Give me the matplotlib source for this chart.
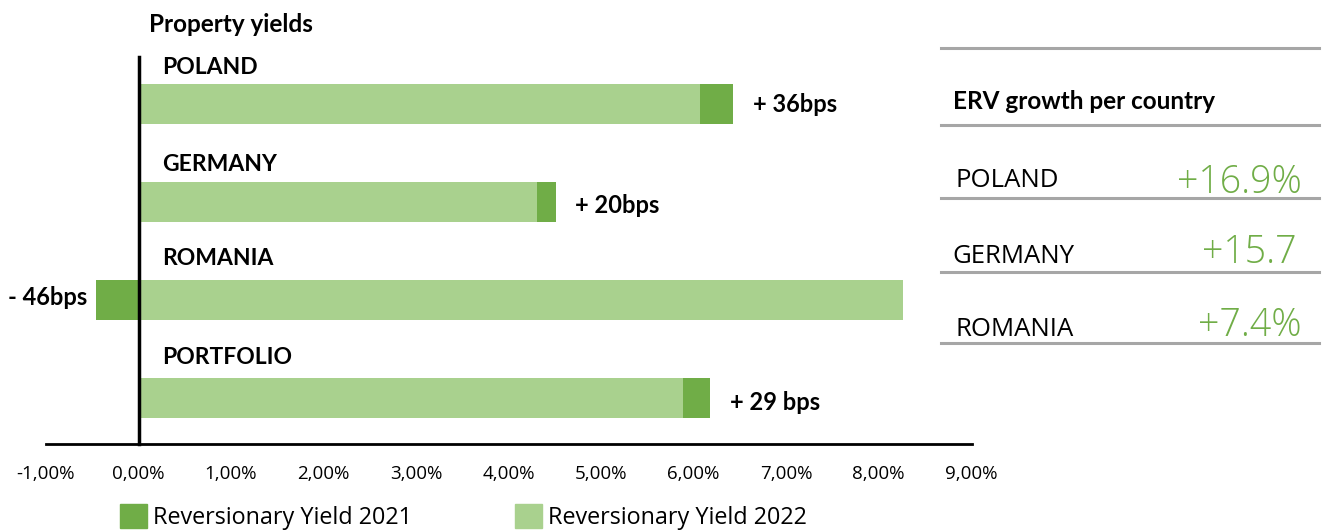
import matplotlib
matplotlib.use("Agg")
import matplotlib.pyplot as plt
from matplotlib.patches import Patch
import numpy as np

# data
countries = ["POLAND", "GERMANY", "ROMANIA", "PORTFOLIO"]
yield_2022 = [6.07, 4.31, 8.26, 5.89]      # light bars, %
change_2021 = [0.36, 0.20, -0.46, 0.29]    # dark segment, %
change_labels = ["+ 36bps", "+ 20bps", "- 46bps", "+ 29 bps"]
xticks = [-1, 0, 1, 2, 3, 4, 5, 6, 7, 8, 9]

erv_countries = ["POLAND", "GERMANY", "ROMANIA"]
erv_values = ["+16.9%", "+15.7", "+7.4%"]

dark = "#70AD47"
light = "#A9D18E"
bold_font = ["Lato", "DejaVu Sans"]
reg_font = ["Open Sans", "DejaVu Sans"]
plt.rcParams["font.family"] = bold_font

W, H = 1327, 532
fig = plt.figure(figsize=(W / 100, H / 100), dpi=100)
ax = fig.add_axes([46 / W, 1 - 444 / H, (972 - 46) / W, (444 - 57) / H])

y = np.arange(len(countries))
base = np.array(yield_2022)
delta = np.array(change_2021)
ax.barh(y, base, height=0.4, color=light, zorder=2)
# dark segment: stacked on the end of the light bar, or left of zero if negative
left = np.where(delta >= 0, base, 0)
ax.barh(y, delta, left=left, height=0.4, color=dark, zorder=2)

ax.set_xlim(-1, 9.01)
ax.set_ylim(3.47, -0.48)

label_dy = [0.08, 0.11, 0.055, 0.125]
name_dy = [-0.31, -0.32, -0.36, -0.35]
for i, name in enumerate(countries):
    ax.text(0.26, i + name_dy[i], name, fontsize=16.5, fontweight="bold", va="baseline", ha="left")
    if delta[i] >= 0:
        ax.text(base[i] + delta[i] + 0.21, i + label_dy[i], change_labels[i],
                fontsize=17, fontweight="bold", va="baseline", ha="left")
    else:
        ax.text(delta[i] - 0.09, i + label_dy[i], change_labels[i], fontsize=17,
                fontweight="bold", va="baseline", ha="right")

ax.spines["top"].set_visible(False)
ax.spines["right"].set_visible(False)
ax.spines["left"].set_position(("data", 0))
ax.spines["left"].set_linewidth(2.5)
ax.spines["bottom"].set_linewidth(2)
ax.set_yticks([])
ax.set_xticks(xticks)
ax.set_xticklabels([f"{v:.2f}%".replace(".", ",") for v in xticks], fontsize=13.5, family=reg_font)
ax.tick_params(axis="x", length=0, pad=15)

fig.text(149 / W, 1 - 31.5 / H, "Property yields", fontsize=17.5, fontweight="bold", va="baseline")

# legend
handles = [Patch(color=dark, label="Reversionary Yield 2021"),
           Patch(color=light, label="Reversionary Yield 2022")]
fig.legend(handles=handles, loc="center left", bbox_to_anchor=(112 / W, 1 - 517 / H),
           ncol=2, frameon=False, handlelength=1.16, handleheight=1.16,
           handletextpad=0.26, columnspacing=4.4, borderaxespad=0, borderpad=0.35,
           prop={"family": reg_font, "size": 16.8})

# ERV table
line_ys = [48, 125, 198, 272, 343]
for ly in line_ys:
    fig.add_artist(plt.Line2D([941 / W, 1319 / W], [1 - ly / H] * 2, color="#A6A6A6", lw=2.2))
fig.text(953 / W, 1 - 109 / H, "ERV growth per country", fontsize=17.5, fontweight="bold",
         va="baseline")
name_x = [956, 952, 956]
name_base = [187, 263, 336]
val_x = [1302, 1297, 1302]
val_base = [193, 263, 336]
for n, v, nx, nb, vx, vb in zip(erv_countries, erv_values, name_x, name_base, val_x, val_base):
    fig.text(nx / W, 1 - nb / H, n, fontsize=18.5, va="baseline", family=reg_font)
    fig.text(vx / W, 1 - vb / H, v, fontsize=27, va="baseline", ha="right", color=dark,
             family=reg_font, fontweight="light")

fig.savefig("out.png", dpi=100)
